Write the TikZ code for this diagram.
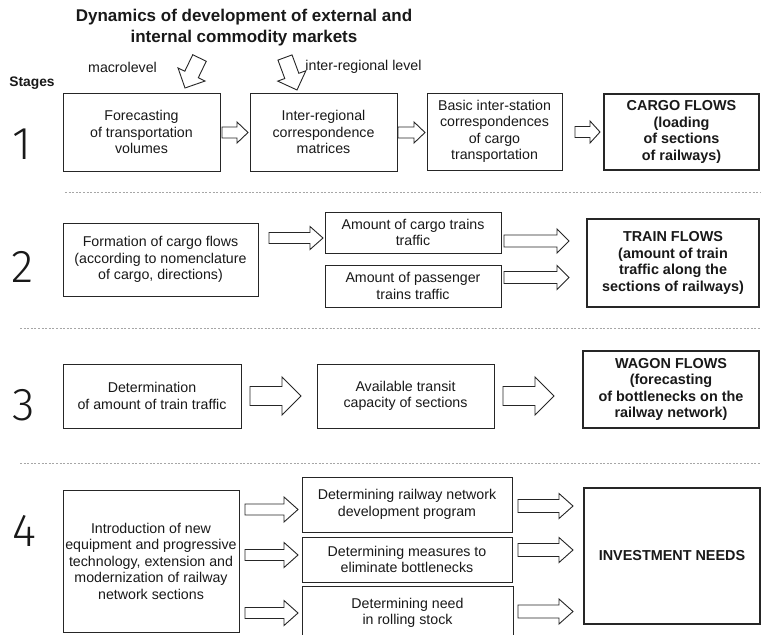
\documentclass[tikz,border=0pt]{standalone}
\usepackage{fontspec}
\setmainfont{Liberation Sans}
\newfontfamily\digitfont{Fira Sans Light}
\usetikzlibrary{calc}
\tikzset{
  ln/.style={draw=black!85, line width=0.9pt},
  box/.style={ln, fill=white, inner sep=1pt, align=center, text=black!90,
    font=\fontsize{14.2}{16.5}\selectfont},
  mainbox/.style={box, line width=2.6pt, font=\bfseries\fontsize{14.4}{16.4}\selectfont},
  sz/.style 2 args={minimum width=#1pt, minimum height=#2pt},
  barrow/.style={ln, fill=white, line join=miter},
  sepline/.style={draw=black!35, line width=0.7pt, dash pattern=on 2pt off 1.6pt},
  digit/.style={font=\digitfont\fontsize{46}{46}\selectfont, text=black!90, inner sep=0pt},
  lbl/.style={font=\fontsize{14.2}{16.5}\selectfont, text=black!90, inner sep=0pt},
}
% block arrow: tail x, tail y, tip x, tip y, shaft half, head half, head length
\newcommand\blockarr[7]{%
  \pgfmathsetmacro\baang{atan2(-(#4-#2),#3-#1)}%
  \pgfmathsetmacro\balen{veclen(#3-#1,#4-#2)}%
  \pgfmathsetmacro\babase{\balen-#7}%
  \begin{scope}[shift={(#1,#2)},rotate=\baang]
    \draw[barrow] (0,-#5) -- (\babase,-#5) -- (\babase,-#6) -- (\balen,0)
      -- (\babase,#6) -- (\babase,#5) -- (0,#5) -- cycle;
  \end{scope}}
\begin{document}
\begin{tikzpicture}[x=1pt,y=-1pt]
\useasboundingbox (0,0) rectangle (762,634);
\clip (0,0) rectangle (762,634);
\fill[white] (0,0) rectangle (762,634);

% title and labels
\node[font=\bfseries\fontsize{17}{21}\selectfont, align=center, text=black!90, inner sep=0pt]
  (title) at (244,27.5) {Dynamics of development of external and\\internal commodity markets};
\node[lbl] (macro) at (122.5,67) {macrolevel};
\node[lbl] (inter) at (363.5,67) {inter-regional level};
\node[lbl, font=\bfseries\fontsize{13.8}{16}\selectfont] (stages) at (32,83) {Stages};

% separators
\draw[sepline] (65,192) -- (760,192);
\draw[sepline] (20,328) -- (760,328);
\draw[sepline] (20,463) -- (760,463);

% digits
\node[digit] (d1) at (22,144) {1};
\node[digit] (d2) at (23,267) {2};
\node[digit] (d3) at (24,405) {3};
\node[digit] (d4) at (24,531) {4};

% stage 1
\node[box, sz={157}{78}] (b11) at (141.5,132) {Forecasting\\of transportation\\volumes};
\node[box, sz={147}{78}] (b12) at (323.5,132) {Inter-regional\\correspondence\\matrices};
\node[box, sz={135}{77}] (b13) at (494.5,131.5) {Basic inter-station\\correspondences\\of cargo\\transportation};
\node[mainbox, sz={155}{76}] (b14) at (681.5,132) {CARGO FLOWS\\(loading\\of sections\\of railways)};
\blockarr{199.5}{58}{185}{88}{7.5}{15}{15}
\blockarr{285}{57.5}{297}{90}{7.5}{15}{15}
\blockarr{222}{132.5}{248}{132.5}{5.5}{10.5}{11}
\blockarr{398}{132.5}{425}{132.5}{5.5}{10.5}{11}
\blockarr{575}{132}{600}{132}{5.5}{11}{10}

% stage 2
\node[box, sz={195}{73}] (b21) at (160.5,259.5) {Formation of cargo flows\\(according to nomenclature\\of cargo, directions)};
\node[box, sz={176}{41}] (b22) at (413,232.5) {Amount of cargo trains\\traffic};
\node[box, sz={176}{42}] (b23) at (413,286) {Amount of passenger\\trains traffic};
\node[mainbox, sz={172}{88}] (b24) at (673,263) {TRAIN FLOWS\\(amount of train\\traffic along the\\sections of railways)};
\blockarr{269}{238}{323}{238}{5.5}{11.5}{13}
\blockarr{504}{241}{569}{241}{6}{12}{12}
\blockarr{504}{277.5}{569}{277.5}{6}{12}{12}

% stage 3
\node[box, sz={178}{64}] (b31) at (152,396) {Determination\\of amount of train traffic};
\node[box, sz={177}{64}] (b32) at (405.5,396) {Available transit\\capacity of sections};
\node[mainbox, sz={176}{77}] (b33) at (671,389.5) {WAGON FLOWS\\(forecasting\\of bottlenecks on the\\railway network)};
\blockarr{250}{396}{301}{396}{9.5}{19}{19}
\blockarr{503}{396}{554}{396}{9.5}{19}{19}

% stage 4
\node[box, sz={176}{142}] (b41) at (151,561) {Introduction of new\\equipment and progressive\\technology, extension and\\modernization of railway\\network sections};
\node[box, sz={210}{55}] (b42) at (407,504.5) {Determining railway network\\development program};
\node[box, sz={210}{45}] (b43) at (407,559.5) {Determining measures to\\eliminate bottlenecks};
\node[box, sz={211}{54}] (b44) at (407.5,613) {Determining need\\in rolling stock};
\node[mainbox, sz={176}{136}] (b45) at (672,556) {INVESTMENT NEEDS};
\blockarr{245}{509.5}{298}{509.5}{5.5}{12.5}{14}
\blockarr{245}{555}{298}{555}{5.5}{12.5}{14}
\blockarr{245}{613}{298}{613}{5.5}{12.5}{14}
\blockarr{518}{506}{573}{506}{6.5}{12.5}{14}
\blockarr{518}{550}{573}{550}{6.5}{12.5}{14}
\blockarr{518}{611.5}{573}{611.5}{6.5}{12.5}{14}
\end{tikzpicture}
\end{document}
